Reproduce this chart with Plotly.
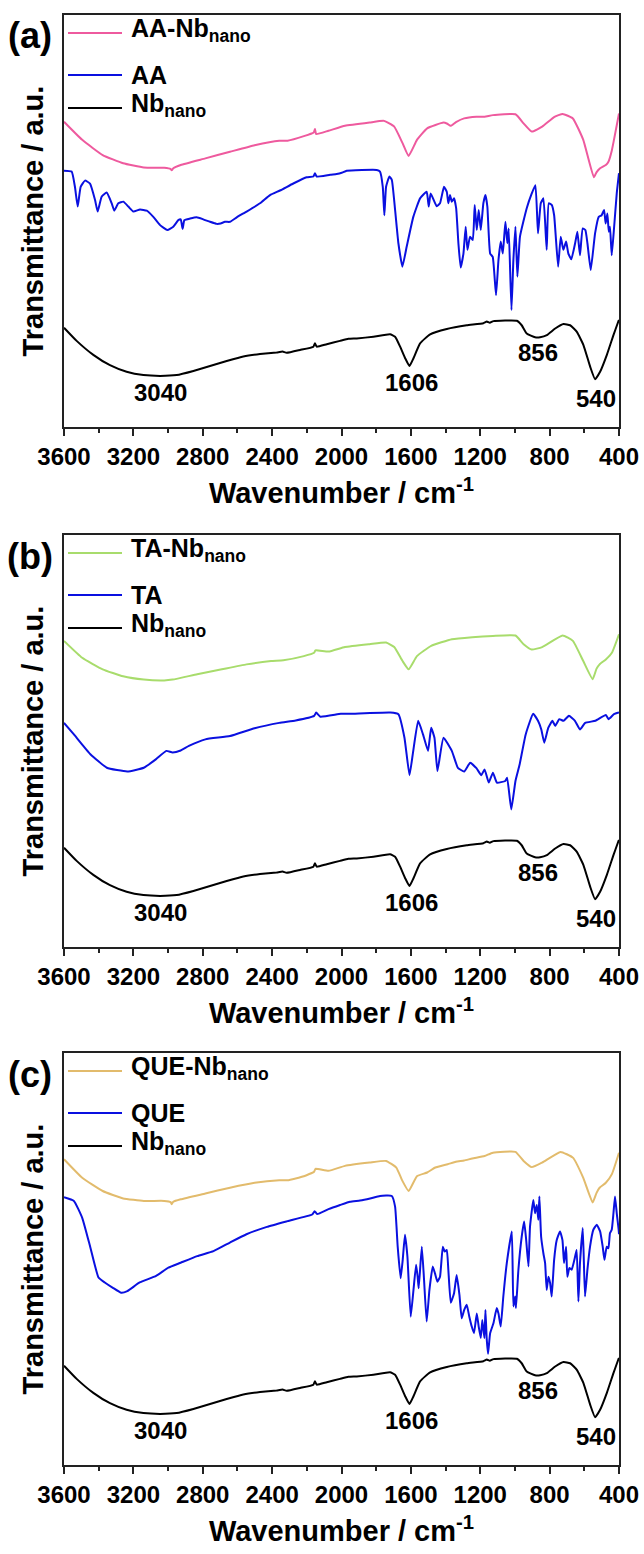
import plotly.graph_objects as go

# ---------------- data (wavenumber cm-1, transmittance a.u.) ----------------
nb_wn = [3600, 3527, 3431, 3335, 3239, 3142, 3046, 2950, 2854, 2758, 2662, 2566, 2470, 2374, 2340, 2316,
         2239, 2162, 2153, 2143, 2085, 2009, 1960, 1912, 1816, 1720, 1691, 1662, 1633, 1608, 1585, 1547,
         1489, 1393, 1278, 1182, 1162, 1145, 1124, 989, 961, 932, 884, 855, 816, 768, 720, 682, 643, 605,
         566, 538, 509, 470, 432, 403, 400]
nb_t = [24.1, 20.9, 17.5, 15.0, 13.4, 12.6, 12.4, 12.6, 13.6, 14.8, 16.0, 17.1, 17.7, 18.1, 18.3, 18.0,
        18.7, 19.5, 20.3, 19.5, 20.1, 20.9, 21.4, 21.5, 21.9, 22.5, 21.9, 19.5, 16.7, 14.8, 16.7, 20.3,
        22.5, 23.8, 24.7, 25.2, 25.6, 25.3, 25.7, 25.8, 24.7, 22.7, 21.8, 21.8, 22.3, 23.9, 25.0, 24.7, 23.1, 19.9,
        14.6, 11.6, 13.4, 17.5, 22.3, 25.7, 26.0]

aanb_wn = [3600, 3495, 3377, 3259, 3140, 3022, 2985, 2979, 2970, 2927, 2785, 2643, 2501, 2359, 2311, 2217,
           2160, 2153, 2146, 2075, 1980, 1838, 1755, 1696, 1648, 1613, 1565, 1506, 1412, 1390, 1371, 1340,
           1293, 1222, 1175, 1127, 997, 950, 903, 843, 772, 725, 666, 606, 545, 530, 509, 476, 461, 441, 400]
aanb_t = [74.1, 69.7, 66.0, 64.0, 63.0, 62.9, 62.6, 62.3, 62.8, 63.6, 65.2, 66.8, 68.4, 69.5, 69.5, 70.6,
          71.5, 72.3, 71.1, 71.9, 73.1, 73.9, 74.3, 72.9, 68.9, 65.8, 69.7, 72.5, 73.9, 73.6, 73.1, 74.0,
          74.9, 75.3, 75.3, 75.7, 75.9, 73.7, 71.7, 72.9, 75.3, 76.0, 74.9, 69.7, 60.6, 61.8, 62.8, 63.6, 64.4, 67.2, 76.1]

aa_wn = [3600, 3556, 3537, 3521, 3504, 3479, 3450, 3421, 3406, 3383, 3354, 3325, 3310, 3287, 3258, 3229,
         3200, 3162, 3123, 3085, 3046, 3004, 2970, 2941, 2927, 2916, 2906, 2873, 2835, 2797, 2758, 2720,
         2697, 2672, 2643, 2604, 2547, 2470, 2412, 2355, 2278, 2201, 2162, 2153, 2143, 2105, 2066, 2028,
         1999, 1970, 1797, 1778, 1762, 1753, 1743, 1724, 1710, 1691, 1672, 1649, 1624, 1586, 1547, 1509,
         1497, 1486, 1451, 1432, 1409, 1393, 1384, 1374, 1364, 1351, 1339, 1326, 1313, 1297, 1284, 1274,
         1259, 1243, 1232, 1220, 1209, 1197, 1182, 1170, 1159, 1143, 1128, 1109, 1095, 1082, 1070, 1055,
         1044, 1036, 1020, 1009, 997, 986, 971, 932, 903, 882, 867, 851, 836, 817, 805, 788, 774, 751,
         736, 721, 705, 692, 675, 653, 640, 625, 609, 594, 582, 563, 538, 517, 500, 486, 477, 467, 459,
         452, 442, 428, 413, 400]
aa_t = [62.2, 62.0, 58.3, 53.5, 58.3, 59.8, 59.1, 55.1, 52.3, 55.9, 56.9, 54.3, 52.5, 54.3, 54.7, 53.5,
        52.3, 52.8, 52.5, 51.0, 49.0, 47.8, 48.6, 50.2, 50.4, 48.1, 50.2, 50.6, 50.9, 50.4, 49.8, 49.3,
        49.4, 49.8, 49.8, 50.9, 52.3, 54.3, 56.3, 57.4, 59.1, 60.6, 60.8, 61.6, 60.8, 60.9, 61.2, 61.4,
        61.7, 62.2, 62.4, 62.0, 58.3, 51.4, 58.3, 60.8, 60.0, 52.7, 44.6, 38.9, 43.8, 51.0, 55.5, 57.1,
        53.5, 56.7, 53.6, 54.3, 58.3, 57.1, 54.3, 56.3, 54.7, 55.5, 53.1, 44.6, 38.7, 42.1, 48.6, 43.0,
        46.2, 45.4, 53.9, 47.8, 52.7, 47.8, 54.3, 56.3, 53.5, 42.1, 41.3, 32.0, 40.5, 45.0, 42.1, 49.8,
        44.6, 48.2, 28.4, 40.5, 48.6, 36.5, 46.2, 53.1, 56.7, 58.7, 47.0, 54.3, 55.5, 43.0, 54.3, 53.9, 51.4, 38.9,
        46.2, 43.0, 45.0, 42.1, 40.7, 44.6, 47.4, 41.7, 48.2, 47.8, 44.6, 38.1, 47.0, 51.0, 51.4, 52.7, 49.4, 51.8, 47.4,
        48.6, 41.7, 48.6, 56.7, 61.6]

tanb_wn = [3600, 3495, 3377, 3259, 3140, 3022, 2974, 2832, 2690, 2548, 2406, 2335, 2217, 2158, 2150, 2075,
           1980, 1838, 1743, 1696, 1648, 1613, 1565, 1483, 1364, 1246, 1127, 997, 950, 903, 843, 725, 666,
           606, 552, 530, 512, 476, 441, 400]
tanb_t = [74.3, 70.2, 67.4, 65.7, 64.9, 64.7, 64.9, 66.2, 67.4, 68.6, 69.4, 69.6, 70.6, 71.4, 72.0, 71.7,
          72.8, 73.5, 73.9, 72.8, 69.4, 67.4, 70.6, 73.1, 74.7, 75.2, 75.5, 75.6, 73.5, 72.2, 72.8, 75.6, 74.3,
          69.4, 65.0, 67.5, 68.6, 69.8, 71.4, 75.9]

ta_wn = [3600, 3543, 3448, 3353, 3235, 3140, 3069, 3010, 2974, 2927, 2880, 2785, 2643, 2501, 2359, 2264,
         2158, 2146, 2122, 2004, 1956, 1719, 1672, 1637, 1608, 1589, 1558, 1530, 1501, 1483, 1464, 1447,
         1412, 1364, 1329, 1293, 1258, 1222, 1194, 1175, 1151, 1127, 1104, 1056, 1045, 1021, 997, 973,
         938, 895, 867, 848, 831, 808, 784, 768, 744, 720, 689, 654, 625, 595, 536, 476, 460, 429, 400]
ta_t = [54.4, 51.6, 46.8, 43.5, 42.6, 43.5, 45.6, 47.6, 47.2, 47.7, 48.8, 50.4, 51.2, 53.1, 54.4, 55.0,
        56.1, 56.9, 55.9, 56.6, 56.6, 56.9, 56.5, 50.8, 41.7, 46.8, 54.9, 51.6, 47.6, 53.2, 50.8, 42.7,
        50.8, 47.6, 43.5, 42.6, 44.7, 43.4, 41.7, 43.1, 39.9, 42.3, 39.9, 40.3, 41.1, 33.4, 40.3, 44.3,
        51.6, 56.6, 54.9, 52.8, 49.6, 53.2, 54.9, 53.7, 55.3, 54.9, 56.1, 54.9, 52.8, 54.4, 54.9, 56.3, 55.3, 56.5, 56.9]

quenb_wn = [3600, 3495, 3377, 3259, 3140, 3022, 2985, 2979, 2970, 2927, 2785, 2643, 2501, 2359, 2311, 2217,
            2158, 2150, 2075, 1980, 1838, 1743, 1684, 1648, 1613, 1565, 1506, 1459, 1388, 1341, 1293, 1246,
            1175, 1127, 997, 950, 903, 843, 737, 666, 606, 552, 530, 512, 476, 441, 400]
quenb_t = [74.2, 69.7, 66.5, 64.7, 64.1, 64.1, 63.8, 63.3, 63.9, 64.5, 65.9, 67.3, 68.5, 69.1, 69.1, 70.1,
           71.2, 71.9, 71.4, 72.6, 73.4, 73.8, 72.2, 68.9, 66.5, 70.1, 71.0, 72.2, 73.0, 73.6, 73.9, 74.4,
           75.0, 75.8, 76.0, 73.8, 72.3, 73.4, 76.0, 74.6, 69.7, 63.7, 66.0, 67.3, 68.5, 70.6, 75.8]

que_wn = [3600, 3543, 3495, 3448, 3401, 3365, 3318, 3270, 3235, 3164, 3069, 2998, 2927, 2832, 2738, 2643,
          2548, 2430, 2311, 2169, 2155, 2140, 2075, 2008, 1951, 1893, 1835, 1778, 1710, 1691, 1676, 1659,
          1647, 1634, 1620, 1601, 1585, 1570, 1561, 1555, 1537, 1524, 1509, 1493, 1474, 1461, 1447, 1432,
          1416, 1405, 1393, 1384, 1370, 1351, 1336, 1320, 1307, 1293, 1278, 1263, 1249, 1236, 1220, 1209,
          1197, 1188, 1176, 1170, 1163, 1155, 1143, 1124, 1105, 1095, 1082, 1067, 1047, 1018, 1009, 999,
          994, 980, 961, 947, 936, 922, 913, 894, 884, 874, 865, 859, 849, 836, 826, 817, 807, 797, 788,
          774, 759, 740, 726, 717, 705, 698, 686, 673, 653, 644, 634, 625, 609, 596, 582, 567, 548, 528,
          509, 494, 484, 471, 461, 452, 442, 432, 423, 413, 402, 400]
que_t = [65.0, 64.1, 60.0, 52.8, 45.5, 44.3, 43.0, 41.8, 42.2, 44.3, 45.9, 47.9, 49.1, 50.7, 51.9, 54.0,
         56.0, 57.8, 59.2, 60.8, 61.6, 60.9, 62.1, 63.1, 63.9, 64.2, 64.7, 65.3, 65.3, 62.7, 53.0, 45.3,
         49.8, 55.9, 50.6, 36.0, 42.5, 48.6, 45.7, 42.9, 53.0, 44.9, 34.8, 42.5, 48.2, 46.5, 44.5, 45.7,
         53.0, 51.8, 52.2, 47.4, 39.4, 41.7, 46.1, 41.3, 35.6, 37.6, 38.9, 36.0, 33.6, 32.0, 36.8, 33.6,
         30.8, 35.2, 30.8, 37.6, 30.8, 27.0, 32.0, 34.4, 38.1, 36.8, 33.6, 40.9, 49.0, 56.7, 38.5, 40.9,
         38.1, 47.4, 55.4, 59.1, 55.0, 48.2, 57.9, 64.3, 61.1, 63.1, 59.5, 65.2, 55.4, 51.4, 49.0, 42.5, 45.7, 44.1, 40.9,
         49.8, 54.6, 56.7, 54.6, 49.0, 53.0, 45.7, 47.8, 47.4, 50.6, 52.2, 39.7, 49.0, 57.5, 40.9, 47.4, 53.0, 57.1, 58.3,
         56.7, 53.0, 49.8, 53.0, 52.6, 56.3, 57.1, 61.1, 65.2, 61.1, 57.1, 56.0]

tick_vals = [3600, 3200, 2800, 2400, 2000, 1600, 1200, 800, 400]
tick_text = [str(v) for v in tick_vals]
peak_labels = ["3040", "1606", "856", "540"]
peak_label_y = [8.3, 10.9, 18.2, 7.0]
peak_label_x = [3046, 1599, 866, 532]

panels = [
    ("(a)", "AA", aanb_wn, aanb_t, "#EE5A9E", aa_wn, aa_t),
    ("(b)", "TA", tanb_wn, tanb_t, "#A8DC6C", ta_wn, ta_t),
    ("(c)", "QUE", quenb_wn, quenb_t, "#E2BB6C", que_wn, que_t),
]

# ---------------- layout geometry (pixels) ----------------
W, H = 644, 1554
box_left, box_right = 64, 619
box_tops = [15, 535, 1053]
box_h = 412
box_w = box_right - box_left

FONT = "Liberation Sans, Arial, sans-serif"
BLUE = "#0A10E0"

# legend key geometry, in px from the panel's top-left corner
leg_line_x = (4, 58)
leg_text_x = 65
leg_row_y = [18, 60, 93]

fig = go.Figure()
layout = dict(
    width=W, height=H, margin=dict(l=0, r=0, t=0, b=0, autoexpand=False),
    paper_bgcolor="white", plot_bgcolor="white",
    font=dict(family=FONT, color="black"),
    showlegend=False,
    annotations=[], shapes=[],
)

for i, (lab, comp, mwn, mt, mcol, cwn, ct) in enumerate(panels):
    n = "" if i == 0 else str(i + 1)
    xa, ya = "x" + n, "y" + n
    names = [f"{comp}-Nb<sub>nano</sub>", comp, "Nb<sub>nano</sub>"]
    colors = [mcol, BLUE, "black"]
    for (xs, ys), nm, col in zip([(mwn, mt), (cwn, ct), (nb_wn, nb_t)], names, colors):
        fig.add_trace(go.Scatter(x=xs, y=ys, mode="lines", name=nm,
                                 line=dict(color=col, width=2, shape="spline", smoothing=0.4),
                                 xaxis=xa, yaxis=ya))
    top = box_tops[i]
    bot = top + box_h
    dom_y = [1 - bot / H, 1 - top / H]
    layout["xaxis" + n] = dict(
        domain=[box_left / W, box_right / W], anchor=ya, range=[3600, 400], automargin=False,
        showline=True, linecolor="#222", linewidth=1.5, mirror=True,
        ticks="outside", ticklen=7, tickwidth=1.5, tickcolor="#222",
        tickmode="array", tickvals=tick_vals, ticktext=tick_text, ticklabelstandoff=0,
        minor=dict(ticks="outside", ticklen=4, tickwidth=1.5, dtick=200, tickcolor="#222"),
        tickfont=dict(size=24, weight="bold", family=FONT),
        showgrid=False, zeroline=False,
        title=dict(text="Wavenumber / cm<sup>-1</sup>", font=dict(size=29, weight="bold", family=FONT), standoff=14),
    )
    layout["yaxis" + n] = dict(
        domain=dom_y, anchor=xa, range=[0, 100], automargin=False,
        showline=True, linecolor="#222", linewidth=1.5, mirror=True,
        ticks="", tickmode="array", tickvals=[], showticklabels=False,
        showgrid=False, zeroline=False,
        title=dict(text="Transmittance / a.u.", font=dict(size=29, weight="bold", family=FONT), standoff=10),
    )
    # legend keys (line sample + label), positioned relative to the panel box
    for ry, nm, col in zip(leg_row_y, names, colors):
        yd = 1 - ry / box_h
        layout["shapes"].append(dict(
            type="line", xref=xa + " domain", yref=ya + " domain",
            x0=leg_line_x[0] / box_w, x1=leg_line_x[1] / box_w, y0=yd, y1=yd,
            line=dict(color=col, width=2)))
        layout["annotations"].append(dict(
            text=nm, xref=xa + " domain", yref=ya + " domain", x=leg_text_x / box_w, y=yd,
            xanchor="left", yanchor="middle", showarrow=False,
            yshift=3 if "<sub>" in nm else 0,
            font=dict(size=25, weight="bold", family=FONT)))
    layout["annotations"].append(dict(
        text=lab, xref="paper", yref="paper", x=30 / W, y=1 - (top + 21) / H,
        xanchor="center", yanchor="middle", showarrow=False,
        font=dict(size=36, weight="bold", family=FONT)))
    for px, py, t in zip(peak_label_x, peak_label_y, peak_labels):
        layout["annotations"].append(dict(
            text=t, xref=xa, yref=ya, x=px, y=py, xanchor="center", yanchor="middle",
            showarrow=False, font=dict(size=24, weight="bold", family=FONT)))

fig.update_layout(**layout)
fig.write_html("out.html")
